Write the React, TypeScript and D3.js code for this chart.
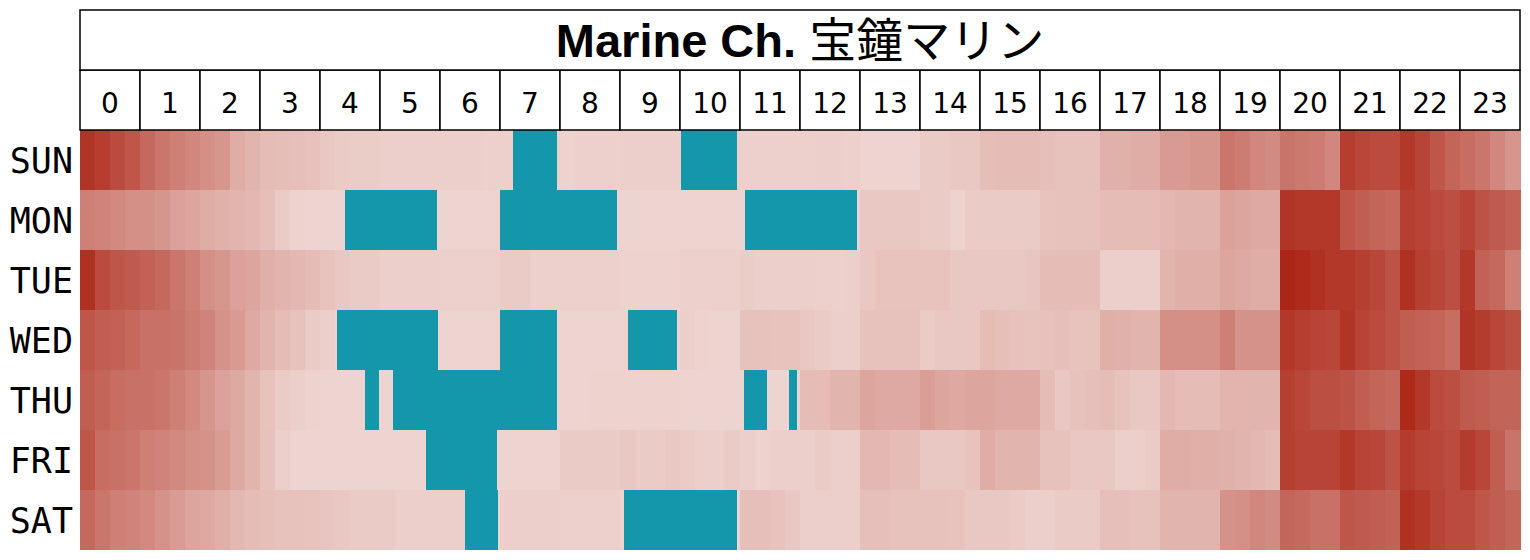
import React, { useEffect, useRef } from "react";
import * as d3 from "d3";

// weekly activity, 4 bins per hour (15 min), 0 = quiet .. 100 = busiest
const days = ["SUN", "MON", "TUE", "WED", "THU", "FRI", "SAT"];
const hours = d3.range(24).map((h) => String(h));
const title = "Marine Ch. ";
const titleJp = "宝鐘マリン";

const sun = [
  90, 85, 78, 72, 62, 55, 50, 46, 42, 38, 26, 22, 18, 17, 16, 15, 12, 10, 9, 9, 8, 8, 8, 8,
  8, 8, 8, 7, 7, 7, 7, 7, 6, 7, 7, 7, 8, 8, 8, 8, 7, 7, 7, 7, 7, 7, 7, 7,
  7, 8, 8, 7, 5, 5, 5, 5, 10, 10, 12, 12, 17, 18, 18, 18, 16, 15, 15, 15, 24, 24, 26, 26,
  36, 36, 38, 38, 55, 52, 46, 44, 56, 54, 52, 46, 85, 80, 78, 78, 88, 82, 72, 64, 60, 55, 46, 38,
];
const mon = [
  50, 48, 45, 42, 42, 38, 32, 30, 26, 24, 22, 20, 16, 10, 6, 5, 5, 5, 5, 5, 5, 5, 5, 5,
  5, 5, 5, 5, 5, 5, 5, 5, 5, 5, 5, 5, 5, 5, 5, 5, 5, 5, 5, 5, 5, 5, 5, 5,
  5, 5, 5, 5, 12, 12, 12, 12, 10, 10, 6, 10, 10, 10, 10, 10, 14, 15, 15, 15, 18, 18, 18, 18,
  20, 22, 22, 22, 32, 30, 28, 28, 90, 88, 88, 88, 72, 68, 64, 62, 84, 82, 78, 76, 82, 74, 70, 66,
];
const tue = [
  92, 78, 72, 70, 66, 62, 55, 50, 42, 38, 32, 30, 25, 22, 20, 18, 14, 12, 10, 10, 8, 8, 8, 8,
  7, 7, 7, 7, 10, 10, 7, 7, 7, 7, 7, 7, 6, 6, 6, 6, 7, 7, 7, 7, 9, 8, 8, 8,
  8, 7, 7, 8, 12, 14, 14, 14, 14, 14, 12, 12, 12, 12, 12, 13, 18, 18, 18, 18, 8, 8, 8, 8,
  22, 25, 25, 25, 30, 28, 26, 26, 98, 95, 92, 88, 88, 84, 80, 74, 92, 84, 80, 76, 88, 66, 62, 50,
];
const wed = [
  72, 68, 66, 62, 58, 58, 56, 52, 48, 40, 36, 28, 22, 18, 15, 10, 8, 5, 5, 5, 5, 5, 5, 5,
  5, 5, 5, 5, 5, 5, 5, 5, 5, 5, 5, 5, 5, 5, 5, 5, 8, 6, 5, 5, 15, 15, 14, 14,
  12, 10, 8, 8, 15, 15, 15, 15, 10, 12, 12, 12, 18, 16, 15, 14, 15, 16, 14, 14, 25, 24, 22, 22,
  42, 42, 42, 42, 50, 40, 40, 40, 88, 85, 82, 80, 90, 82, 78, 74, 68, 66, 64, 60, 90, 86, 80, 76,
];
const thu = [
  68, 64, 60, 58, 58, 55, 50, 45, 38, 32, 28, 22, 14, 10, 8, 6, 5, 5, 5, 5, 5, 5, 5, 5,
  5, 5, 5, 5, 5, 5, 5, 5, 5, 5, 6, 6, 6, 6, 6, 6, 5, 5, 5, 5, 5, 5, 5, 5,
  18, 18, 22, 22, 30, 28, 28, 28, 34, 30, 28, 30, 30, 28, 28, 28, 18, 12, 15, 16, 18, 14, 12, 12,
  20, 18, 18, 18, 22, 22, 22, 22, 84, 80, 76, 76, 74, 68, 64, 62, 96, 88, 78, 76, 70, 68, 65, 65,
];
const fri = [
  72, 60, 58, 55, 50, 48, 45, 42, 40, 35, 28, 22, 15, 8, 5, 5, 5, 5, 5, 5, 5, 5, 5, 5,
  5, 5, 5, 5, 5, 5, 5, 5, 10, 10, 10, 10, 12, 10, 10, 12, 10, 8, 8, 10, 8, 6, 8, 8,
  8, 10, 8, 8, 20, 20, 18, 18, 12, 12, 12, 14, 26, 22, 22, 22, 15, 15, 12, 12, 12, 8, 8, 10,
  26, 26, 25, 25, 24, 22, 20, 18, 84, 82, 82, 82, 88, 82, 80, 74, 86, 82, 80, 78, 86, 80, 68, 56,
];
const sat = [
  62, 55, 50, 48, 45, 40, 35, 30, 28, 25, 20, 18, 16, 15, 15, 14, 13, 12, 10, 10, 10, 8, 8, 8,
  8, 8, 5, 5, 8, 8, 8, 8, 7, 7, 7, 7, 5, 5, 5, 5, 5, 5, 5, 5, 16, 16, 14, 12,
  8, 8, 8, 8, 16, 16, 15, 15, 15, 15, 14, 12, 12, 12, 10, 8, 8, 10, 10, 10, 16, 16, 15, 15,
  22, 22, 22, 22, 40, 42, 46, 44, 64, 62, 58, 58, 72, 70, 68, 66, 92, 88, 82, 78, 78, 72, 68, 64,
];
const weekValues = [sun, mon, tue, wed, thu, fri, sat];

// live stream slots (teal)
const streams = [
  { day: "SUN", from: "7:13", to: "7:57" },
  { day: "SUN", from: "10:01", to: "10:57" },
  { day: "MON", from: "4:25", to: "5:57" },
  { day: "MON", from: "7:00", to: "8:57" },
  { day: "MON", from: "11:05", to: "12:57" },
  { day: "WED", from: "4:17", to: "5:58" },
  { day: "WED", from: "7:00", to: "7:57" },
  { day: "WED", from: "9:08", to: "9:57" },
  { day: "THU", from: "4:45", to: "4:59" },
  { day: "THU", from: "5:13", to: "7:57" },
  { day: "THU", from: "11:04", to: "11:27" },
  { day: "THU", from: "11:49", to: "11:57" },
  { day: "FRI", from: "5:46", to: "6:57" },
  { day: "SAT", from: "6:25", to: "6:58" },
  { day: "SAT", from: "9:04", to: "10:57" },
];

const W = 1530;
const H = 560;
const left = 80;
const right = 1520;

const toMin = (s: string) => {
  const [h, m] = s.split(":").map(Number);
  return h * 60 + m;
};

const App = () => {
  const ref = useRef(null);

  useEffect(() => {
    document.body.style.margin = "0";
    const svg = d3.select(ref.current);
    svg.selectAll("*").remove();

    const x = d3.scaleLinear().domain([0, 1440]).range([left, right]);
    const xHour = d3.scaleBand().domain(hours).range([left, right]);
    const y = d3.scaleBand().domain(days).range([130, 550]);
    const color = d3
      .scaleLinear<string>()
      .domain([5, 100])
      .range(["#eed4d0", "#aa2212"])
      .interpolate(d3.interpolateRgb)
      .clamp(true);

    // heat cells
    const cells: any[] = [];
    weekValues.forEach((vals, di) => {
      vals.forEach((v, i) => cells.push({ day: days[di], start: i * 15, v }));
    });
    svg
      .append("g")
      .attr("shape-rendering", "crispEdges")
      .selectAll("rect")
      .data(cells)
      .join("rect")
      .attr("x", (d: any) => x(d.start))
      .attr("y", (d: any) => y(d.day) as number)
      .attr("width", x(15) - x(0) + 0.5)
      .attr("height", y.bandwidth())
      .attr("fill", (d: any) => color(d.v));

    // stream blocks
    svg
      .append("g")
      .attr("shape-rendering", "crispEdges")
      .selectAll("rect")
      .data(streams)
      .join("rect")
      .attr("x", (d) => x(toMin(d.from)))
      .attr("y", (d) => y(d.day) as number)
      .attr("width", (d) => x(toMin(d.to)) - x(toMin(d.from)))
      .attr("height", y.bandwidth())
      .attr("fill", "#1496ab");

    // day labels
    svg
      .append("g")
      .selectAll("text")
      .data(days)
      .join("text")
      .attr("x", 73)
      .attr("y", (d) => (y(d) as number) + y.bandwidth() / 2 + 13)
      .attr("text-anchor", "end")
      .style("font-family", "'DejaVu Sans Mono', monospace")
      .style("font-size", "35px")
      .text((d) => d);

    // header cells
    const header = svg.append("g");
    header
      .selectAll("rect")
      .data(hours)
      .join("rect")
      .attr("x", (d) => xHour(d) as number)
      .attr("y", 70)
      .attr("width", xHour.bandwidth())
      .attr("height", 60)
      .attr("fill", "#fff")
      .attr("stroke", "#000")
      .attr("stroke-width", 1.5);
    header
      .selectAll("text")
      .data(hours)
      .join("text")
      .attr("x", (d) => (xHour(d) as number) + xHour.bandwidth() / 2)
      .attr("y", 113)
      .attr("text-anchor", "middle")
      .style("font-family", "'DejaVu Sans', sans-serif")
      .style("font-size", "28px")
      .text((d) => d);

    // title box
    svg
      .append("rect")
      .attr("x", left)
      .attr("y", 10)
      .attr("width", right - left)
      .attr("height", 60)
      .attr("fill", "#fff")
      .attr("stroke", "#000")
      .attr("stroke-width", 1.5);
    const t = svg
      .append("text")
      .attr("x", (left + right) / 2)
      .attr("y", 57)
      .attr("text-anchor", "middle")
      .style("font-size", "47px");
    t.append("tspan")
      .style("font-family", "'Liberation Sans', Arial, sans-serif")
      .style("font-weight", "bold")
      .text(title);
    t.append("tspan")
      .style("font-family", "'Noto Sans CJK JP', sans-serif")
      .style("font-weight", "normal")
      .text(titleJp);
  }, []);

  return <svg ref={ref} width={W} height={H} style={{ display: "block", background: "#fff" }}></svg>;
};

export default App;
